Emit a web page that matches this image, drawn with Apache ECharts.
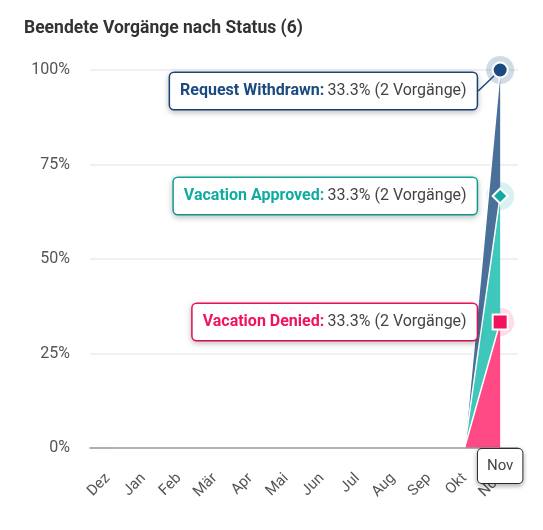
<!DOCTYPE html>
<html>
<head>
<meta charset="utf-8">
<script src="https://cdn.jsdelivr.net/npm/echarts@6/dist/echarts.min.js"></script>
<style>
  html, body { margin: 0; padding: 0; background: #fff; }
  #chart { width: 543px; height: 530px; }
</style>
</head>
<body>
<div id="chart"></div>
<script>
const months = ['Dez', 'Jan', 'Feb', 'Mär', 'Apr', 'Mai', 'Jun', 'Jul', 'Aug', 'Sep', 'Okt', 'Nov']
const deniedCounts = [0, 0, 0, 0, 0, 0, 0, 0, 0, 0, 0, 2]
const approvedCounts = [0, 0, 0, 0, 0, 0, 0, 0, 0, 0, 0, 2]
const withdrawnCounts = [0, 0, 0, 0, 0, 0, 0, 0, 0, 0, 0, 2]
const yTicks = [0, 25, 50, 75, 100]

const font = 'Roboto, "Noto Sans", sans-serif'
const last = months.length - 1
const totals = months.map((m, i) => deniedCounts[i] + approvedCounts[i] + withdrawnCounts[i])
const pct = (arr) => arr.map((v, i) => totals[i] ? v / totals[i] * 100 : 0)
const totalAll = totals.reduce((a, b) => a + b, 0)

const statuses = [
  { name: 'Vacation Denied', counts: deniedCounts, color: '#f2135c', area: '#ff4a85', symbol: 'rect', halo: 'rgba(242,19,92,0.18)' },
  { name: 'Vacation Approved', counts: approvedCounts, color: '#11aca1', area: '#3fc7bc', symbol: 'diamond', halo: 'rgba(17,172,161,0.2)' },
  { name: 'Request Withdrawn', counts: withdrawnCounts, color: '#1b4a80', area: '#4a6f99', symbol: 'circle', halo: 'rgba(27,74,128,0.25)' }
]

let cum = months.map(() => 0)
const haloData = []
const series = statuses.map((s, k) => {
  const values = pct(s.counts)
  cum = cum.map((c, i) => c + values[i])
  haloData.push({ value: [months[last], cum[last]], itemStyle: { color: s.halo } })
  const data = values.map((v, i) => {
    if (i !== last) return v
    return {
      value: v,
      label: {
        show: true,
        position: 'left',
        distance: 15,
        formatter: '{n|' + s.name + ':} {v|' + v.toFixed(1) + '% (' + s.counts[i] + ' Vorgänge)}',
        backgroundColor: '#fff',
        borderColor: s.color,
        borderWidth: 1.5,
        borderRadius: 4,
        padding: [10, 10, 10, 10],
        shadowBlur: 6,
        shadowOffsetY: 2,
        shadowColor: 'rgba(0,0,0,0.22)',
        rich: {
          n: { color: s.color, fontWeight: 'bold', fontSize: 16, fontFamily: font },
          v: { color: '#444', fontSize: 16, fontFamily: font }
        }
      }
    }
  })
  return {
    name: s.name,
    type: 'line',
    stack: 'total',
    data: data,
    symbol: s.symbol,
    symbolSize: (val, params) => params.dataIndex === last ? 15 : 0,
    showSymbol: true,
    color: s.color,
    itemStyle: { color: s.color, borderColor: '#fff', borderWidth: 2 },
    lineStyle: { color: '#fff', width: 1.5 },
    areaStyle: { color: s.area, opacity: 1 },
    labelLayout: k === 2 ? { dy: 21, dx: 0 } : null,
    labelLine: { show: k === 2, lineStyle: { color: s.color, width: 1.5 } },
    emphasis: { disabled: true },
    z: 3
  }
})

series.unshift({
  type: 'scatter',
  data: haloData,
  symbolSize: 28,
  silent: true,
  z: 2
})

const chart = echarts.init(document.getElementById('chart'))
chart.setOption({
  animation: false,
  title: {
    text: 'Beendete Vorgänge nach Status (' + totalAll + ')',
    left: 19,
    top: 15,
    textStyle: { fontSize: 17.5, fontWeight: 'bold', color: '#333', fontFamily: font }
  },
  grid: { left: 90, right: 25, top: 70, bottom: 82 },
  xAxis: {
    type: 'category',
    data: months,
    boundaryGap: true,
    z: 5,
    axisLine: { lineStyle: { color: '#999', width: 1.5 } },
    axisTick: { show: false },
    axisLabel: { rotate: 45, color: '#555', fontSize: 15, margin: 28, fontFamily: font, interval: 0 },
    axisPointer: {
      show: true,
      value: months[last],
      status: 'show',
      triggerTooltip: false,
      type: 'line',
      lineStyle: { opacity: 0, width: 0 },
      label: {
        show: true,
        color: '#444',
        fontSize: 15,
        fontFamily: font,
        backgroundColor: '#fff',
        borderColor: '#333',
        borderWidth: 1,
        borderRadius: 4,
        padding: [10, 9, 9, 9],
        margin: 1,
        shadowBlur: 5,
        shadowOffsetY: 2,
        shadowColor: 'rgba(0,0,0,0.3)'
      }
    }
  },
  yAxis: {
    type: 'value',
    min: yTicks[0],
    max: yTicks[yTicks.length - 1],
    interval: yTicks[1] - yTicks[0],
    axisLine: { show: false },
    axisTick: { show: false },
    axisLabel: { formatter: '{value}%', color: '#555', fontSize: 16, margin: 20, fontFamily: font },
    splitLine: { lineStyle: { color: '#ebebeb', width: 1.5 } }
  },
  series: series
})
</script>
</body>
</html>
